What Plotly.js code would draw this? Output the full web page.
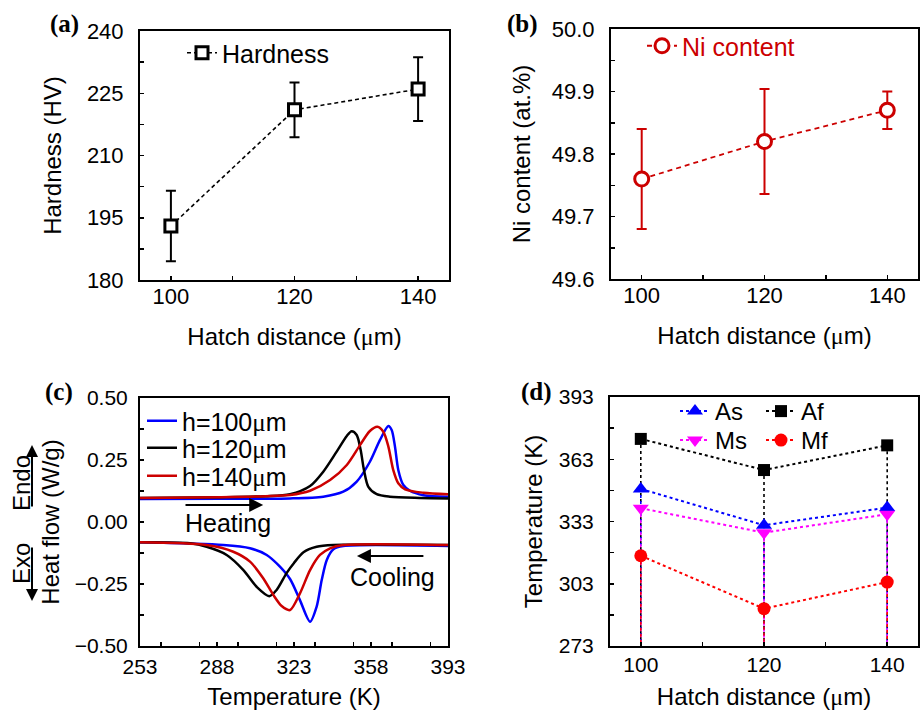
<!DOCTYPE html>
<html>
<head>
<meta charset="utf-8">
<script src="https://cdn.plot.ly/plotly-3.0.1.min.js"></script>
<style>html,body{margin:0;padding:0;background:#fff;}#chart{width:921px;height:710px;}</style>
</head>
<body>
<div id="chart"></div>
<script>
// ---------- data ----------
const hatch = [100, 120, 140];
const hardness = [193, 221, 226];
const hardnessErr = [8.5, 6.6, 7.7];
const niContent = [49.76, 49.82, 49.87];
const niErr = [0.08, 0.084, 0.03];

const tempAs = [348.7, 331.2, 339.7];
const tempAf = [372.8, 357.8, 369.7];
const tempMs = [339.4, 327.6, 336.5];
const tempMf = [316.5, 291.0, 303.8];

// DSC heating curves (T in K, heat flow in W/g)
const heatT100 = [253, 290, 321.2, 336.3, 345.4, 351.5, 357.5, 362.1, 365.9, 367.4, 368.9, 370.4, 372.7, 375.7, 381.8, 393];
const heatQ100 = [0.093, 0.094, 0.095, 0.102, 0.122, 0.163, 0.243, 0.331, 0.387, 0.371, 0.304, 0.21, 0.149, 0.126, 0.108, 0.102];
const heatT120 = [253, 290, 310, 321.2, 330.3, 336.3, 342.4, 347, 349.2, 351.5, 353.3, 354.8, 356.8, 360.6, 366.6, 380, 393];
const heatQ120 = [0.097, 0.100, 0.104, 0.112, 0.145, 0.203, 0.284, 0.347, 0.366, 0.351, 0.29, 0.21, 0.142, 0.112, 0.102, 0.097, 0.095];
const heatT140 = [253, 290, 310, 321.2, 330.3, 339.4, 347, 353, 357.5, 360.9, 363.6, 365.9, 368.1, 370.4, 373.5, 381.8, 393];
const heatQ140 = [0.097, 0.100, 0.104, 0.109, 0.126, 0.169, 0.23, 0.31, 0.367, 0.384, 0.364, 0.304, 0.21, 0.156, 0.132, 0.118, 0.112];

// DSC cooling curves
const coolT100 = [253, 290.9, 303, 310.6, 316.6, 321.2, 325.7, 330.3, 333.3, 335.6, 337.9, 340.9, 345.4, 393];
const coolQ100 = [-0.082, -0.093, -0.106, -0.133, -0.18, -0.23, -0.315, -0.402, -0.341, -0.234, -0.153, -0.11, -0.097, -0.097];
const coolT120 = [253, 275.7, 283.3, 292.4, 300, 306, 311.8, 315.1, 319.7, 323, 327.3, 333.3, 340.9, 393];
const coolQ120 = [-0.082, -0.086, -0.1, -0.133, -0.194, -0.261, -0.299, -0.274, -0.205, -0.165, -0.122, -0.1, -0.093, -0.093];
const coolT140 = [253, 283.3, 295.4, 303, 309, 313.6, 317.4, 321.2, 325.7, 330.3, 334.8, 339.4, 345.4, 393];
const coolQ140 = [-0.082, -0.093, -0.12, -0.16, -0.227, -0.294, -0.339, -0.355, -0.288, -0.194, -0.133, -0.106, -0.093, -0.093];

const xTicks = [100, 120, 140];
const tempAxisMin = 273;

// ---------- styling ----------
const FONT = "Arial, 'Liberation Sans', sans-serif";
const SERIF = "'Times New Roman', 'Liberation Serif', serif";
const MU = '<span style="font-family:Liberation Serif">\u03bc</span>';
const RED = '#CC0000';
const W = 921, H = 710;
const px = v => v / W;
const py = v => 1 - v / H;

function dropLines(xs, ys, base) {
  const dx = [], dy = [];
  xs.forEach((x, i) => { dx.push(x, x, null); dy.push(ys[i], base, null); });
  return {x: dx, y: dy};
}

const traces = [];
// (a)
traces.push({
  x: hatch, y: hardness, xaxis: 'x', yaxis: 'y', name: 'Hardness', legend: 'legend',
  mode: 'lines+markers', type: 'scatter',
  line: {color: 'black', width: 1.6, dash: '4px,3px'},
  marker: {symbol: 'square', size: 12, color: 'white', line: {color: 'black', width: 3}},
  error_y: {type: 'data', array: hardnessErr, visible: true, color: 'black', thickness: 2, width: 5}
});
// (b)
traces.push({
  x: hatch, y: niContent, xaxis: 'x2', yaxis: 'y2', name: 'Ni content', legend: 'legend2',
  mode: 'lines+markers', type: 'scatter',
  line: {color: RED, width: 1.8, dash: '5px,4px'},
  marker: {symbol: 'circle', size: 14, color: 'white', line: {color: RED, width: 3}},
  error_y: {type: 'data', array: niErr, visible: true, color: RED, thickness: 2, width: 5}
});
// (c)
const dsc = [
  {T: heatT100, Q: heatQ100, c: '#0000FF', n: 'h=100' + MU + 'm', show: true, lg: 'legend3'},
  {T: heatT120, Q: heatQ120, c: '#000000', n: 'h=120' + MU + 'm', show: true, lg: 'legend4'},
  {T: heatT140, Q: heatQ140, c: RED, n: 'h=140' + MU + 'm', show: true, lg: 'legend5'},
  {T: coolT100, Q: coolQ100, c: '#0000FF', n: 'h=100', show: false, lg: 'legend3'},
  {T: coolT120, Q: coolQ120, c: '#000000', n: 'h=120', show: false, lg: 'legend4'},
  {T: coolT140, Q: coolQ140, c: RED, n: 'h=140', show: false, lg: 'legend5'}
];
dsc.forEach(d => traces.push({
  x: d.T, y: d.Q, xaxis: 'x3', yaxis: 'y3', name: d.n, showlegend: d.show, legend: d.lg,
  mode: 'lines', type: 'scatter', line: {color: d.c, width: 2.5, shape: 'spline', smoothing: 0.8}
}));
// (d)
const dSeries = [
  {y: tempAf, c: '#000000', n: 'Af', s: 'square', size: 12, lg: 'legend7'},
  {y: tempAs, c: '#0000FF', n: 'As', s: 'triangle-up', size: 14, lg: 'legend6'},
  {y: tempMs, c: '#FF00FF', n: 'Ms', s: 'triangle-down', size: 14, lg: 'legend8'},
  {y: tempMf, c: '#FF0000', n: 'Mf', s: 'circle', size: 13, lg: 'legend9'}
];
dSeries.forEach(d => {
  const dl = dropLines(hatch, d.y, tempAxisMin);
  traces.push({x: dl.x, y: dl.y, xaxis: 'x4', yaxis: 'y4', mode: 'lines', type: 'scatter',
    showlegend: false, hoverinfo: 'skip', line: {color: d.c, width: 1.6, dash: 'dot'}});
});
['As', 'Ms', 'Af', 'Mf'].forEach(name => {
  const d = dSeries.find(s => s.n === name);
  traces.push({x: hatch, y: d.y, xaxis: 'x4', yaxis: 'y4', name: d.n, legend: d.lg,
    mode: 'lines+markers', type: 'scatter',
    line: {color: d.c, width: 2, dash: 'dot'},
    marker: {symbol: d.s, size: d.size, color: d.c}});
});

function xax(domain, range, tickvals, anchor, minorDtick, titleText, fs, standoff, lblOff) {
  return {
    domain: domain, range: range, anchor: anchor, tickvals: tickvals,
    ticks: 'inside', ticklen: 4, tickwidth: 1.5, tickcolor: 'black',
    showline: true, mirror: true, linewidth: 2, linecolor: 'black',
    showgrid: false, zeroline: false, tickfont: {family: FONT, size: fs, color: 'black'},
    ticklabelstandoff: lblOff,
    minor: {ticks: 'inside', ticklen: 4, dtick: minorDtick, tickcolor: 'black', tickwidth: 1.5, showgrid: false},
    title: {text: titleText, font: {family: FONT, size: 24, color: 'black'}, standoff: standoff}
  };
}
function yax(domain, range, tick0, dtick, fmt, anchor, minorDtick, titleText, fs, standoff, lblOff) {
  return {
    domain: domain, range: range, anchor: anchor, tick0: tick0, dtick: dtick, tickformat: fmt,
    ticks: 'inside', ticklen: 4, tickwidth: 1.5, tickcolor: 'black',
    showline: true, mirror: true, linewidth: 2, linecolor: 'black',
    showgrid: false, zeroline: false, tickfont: {family: FONT, size: fs, color: 'black'},
    ticklabelstandoff: lblOff,
    minor: {ticks: 'inside', ticklen: 4, tick0: tick0, dtick: minorDtick, tickcolor: 'black', tickwidth: 1.5, showgrid: false},
    title: {text: titleText, font: {family: FONT, size: 24, color: 'black'}, standoff: standoff}
  };
}

const hatchTitle = 'Hatch distance (' + MU + 'm)';
const legBase = {bgcolor: 'rgba(0,0,0,0)', borderwidth: 0, xanchor: 'left', yanchor: 'top', tracegroupgap: 0};
function leg(x, y, size, color) {
  return Object.assign({}, legBase, {x: px(x), y: py(y), font: {family: FONT, size: size, color: color || 'black'}});
}
function label(t, x, y) {
  return {text: '<b>' + t + '</b>', xref: 'paper', yref: 'paper', x: px(x), y: py(y), xanchor: 'center', yanchor: 'middle',
    showarrow: false, font: {family: SERIF, size: 25, color: 'black'}};
}

const layout = {
  width: W, height: H, margin: {l: 0, r: 0, t: 0, b: 0},
  paper_bgcolor: 'white', plot_bgcolor: 'white',
  font: {family: FONT, color: 'black'},
  showlegend: true,
  xaxis: xax([px(140), px(449)], [95, 145], xTicks, 'y', 10, hatchTitle, 22, 20, -4),
  yaxis: yax([py(280), py(31)], [180, 240], 180, 15, '', 'x', 7.5, 'Hardness (HV)', 22, 18, 10),
  xaxis2: xax([px(611), px(918)], [95, 145], xTicks, 'y2', 10, hatchTitle, 22, 20, -4),
  yaxis2: yax([py(279), py(29)], [49.6, 50.0], 49.6, 0.1, '.1f', 'x2', 0.05, 'Ni content (at.%)', 22, 14, 10),
  xaxis3: Object.assign(xax([px(140), px(448)], [253, 393], null, 'y3', 17.5, 'Temperature (K)', 21, 22, 1), {tick0: 253, dtick: 35, tickvals: undefined}),
  yaxis3: yax([py(646), py(398)], [-0.5, 0.5], -0.5, 0.25, '.2f', 'x3', 0.125, 'Heat flow (W/g)', 21, 8, 6),
  xaxis4: xax([px(610), px(918)], [95, 145], xTicks, 'y4', 10, hatchTitle, 21, 18, -1),
  yaxis4: yax([py(646), py(397)], [273, 393], 273, 30, '', 'x4', 15, 'Temperature (K)', 21, 9, 10),
  legend: leg(182, 30, 25),
  legend2: leg(642, 23, 25, RED),
  legend3: leg(142, 398, 25),
  legend4: leg(142, 425, 25),
  legend5: leg(142, 453, 25),
  legend6: leg(675, 389, 24),
  legend7: leg(761, 389, 24),
  legend8: leg(675, 418, 24),
  legend9: leg(761, 418, 24),
  annotations: [
    label('(a)', 64, 24), label('(b)', 522, 24), label('(c)', 59, 392), label('(d)', 536, 392),
    // heating / cooling arrows and labels
    {text: '', xref: 'x3', yref: 'y3', x: 309, y: 0.069, axref: 'x3', ayref: 'y3', ax: 273, ay: 0.069,
      showarrow: true, arrowhead: 2, arrowsize: 1.4, arrowwidth: 2, arrowcolor: 'black'},
    {text: 'Heating', xref: 'x3', yref: 'y3', x: 293, y: -0.004, showarrow: false, xanchor: 'center', yanchor: 'middle', font: {family: FONT, size: 25, color: 'black'}},
    {text: '', xref: 'x3', yref: 'y3', x: 351.6, y: -0.137, axref: 'x3', ayref: 'y3', ax: 382.5, ay: -0.137,
      showarrow: true, arrowhead: 2, arrowsize: 1.4, arrowwidth: 2, arrowcolor: 'black'},
    {text: 'Cooling', xref: 'x3', yref: 'y3', x: 367.8, y: -0.222, showarrow: false, xanchor: 'center', yanchor: 'middle', font: {family: FONT, size: 25, color: 'black'}},
    // Endo / Exo indicators
    {text: 'Endo', xref: 'paper', yref: 'paper', x: px(21), y: py(483), xanchor: 'center', yanchor: 'middle', textangle: -90, showarrow: false, font: {family: FONT, size: 24, color: 'black'}},
    {text: 'Exo', xref: 'paper', yref: 'paper', x: px(21), y: py(564), xanchor: 'center', yanchor: 'middle', textangle: -90, showarrow: false, font: {family: FONT, size: 24, color: 'black'}},
    {text: '', xref: 'paper', yref: 'paper', x: px(32), y: py(445), axref: 'pixel', ayref: 'pixel', ax: 0, ay: 63,
      showarrow: true, arrowhead: 2, arrowsize: 1.2, arrowwidth: 2, arrowcolor: 'black'},
    {text: '', xref: 'paper', yref: 'paper', x: px(32), y: py(601), axref: 'pixel', ayref: 'pixel', ax: 0, ay: -55,
      showarrow: true, arrowhead: 2, arrowsize: 1.2, arrowwidth: 2, arrowcolor: 'black'}
  ]
};

Plotly.newPlot('chart', traces, layout, {displayModeBar: false, staticPlot: true});
</script>
</body>
</html>
